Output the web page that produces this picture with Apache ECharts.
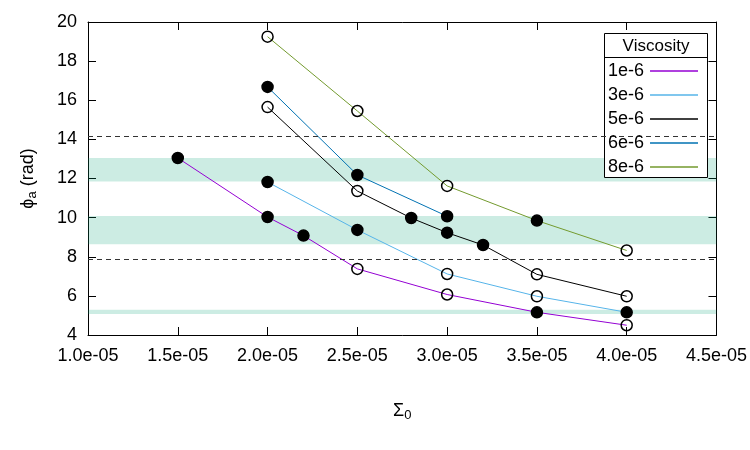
<!DOCTYPE html>
<html>
<head>
<meta charset="utf-8">
<script src="https://cdn.jsdelivr.net/npm/echarts@6/dist/echarts.min.js"></script>
<style>
    html, body { margin: 0; padding: 0; background: #fff; }
    #chart { width: 750px; height: 450px; }
</style>
</head>
<body>
<div id="chart"></div>
<script>
// x = Sigma_0, y = phi_a (rad), filled = true for solid markers
var viscosities = ['1e-6', '3e-6', '5e-6', '6e-6', '8e-6'];
var lineColors = ['#9400d3', '#56b4e9', '#000000', '#0072b2', '#739a2e'];

var sigma1 = [1.5e-5, 2.0e-5, 2.2e-5, 2.5e-5, 3.0e-5, 3.5e-5, 4.0e-5];
var phi1 = [13.05, 10.03, 9.08, 7.38, 6.07, 5.16, 4.5];
var filled1 = [true, true, true, false, false, true, false];

var sigma3 = [2.0e-5, 2.5e-5, 3.0e-5, 3.5e-5, 4.0e-5];
var phi3 = [11.82, 9.37, 7.12, 5.98, 5.16];
var filled3 = [true, true, false, false, true];

var sigma5 = [2.0e-5, 2.5e-5, 2.8e-5, 3.0e-5, 3.2e-5, 3.5e-5, 4.0e-5];
var phi5 = [15.65, 11.36, 9.98, 9.23, 8.6, 7.1, 5.98];
var filled5 = [false, false, true, true, true, false, false];

var sigma6 = [2.0e-5, 2.5e-5, 3.0e-5];
var phi6 = [16.68, 12.18, 10.07];
var filled6 = [true, true, true];

var sigma8 = [2.0e-5, 2.5e-5, 3.0e-5, 3.5e-5, 4.0e-5];
var phi8 = [19.25, 15.45, 11.62, 9.85, 8.32];
var filled8 = [false, false, false, true, false];

// shaded phi ranges and dashed reference levels
var bands = [[11.85, 13.05], [8.64, 10.08], [5.07, 5.29]];
var dashedLevels = [2.5 * Math.PI, 4.5 * Math.PI];

var xTicks = { min: 1.0e-5, max: 4.5e-5, step: 5e-6 };
var yTicks = { min: 4, max: 20, step: 2 };

function fmtExp(v) {
    var s = v.toExponential(1);
    var parts = s.split('e');
    var exp = parseInt(parts[1], 10);
    var sign = exp < 0 ? '-' : '+';
    var a = Math.abs(exp);
    return parts[0] + 'e' + sign + (a < 10 ? '0' + a : a);
}

function buildData(xs, ys, fills) {
    var out = [];
    for (var i = 0; i < xs.length; i++) {
        out.push({
            value: [xs[i], ys[i]],
            itemStyle: {
                color: fills[i] ? '#000' : 'rgba(0,0,0,0)',
                borderColor: '#000',
                borderWidth: 1.5
            }
        });
    }
    return out;
}

var allSeries = [
    [sigma1, phi1, filled1],
    [sigma3, phi3, filled3],
    [sigma5, phi5, filled5],
    [sigma6, phi6, filled6],
    [sigma8, phi8, filled8]
];

var chart = echarts.init(document.getElementById('chart'));
var font = 'Liberation Sans, Arial, sans-serif';

var series = [];
// bands and dashed lines first so they sit under the curves
series.push({
    type: 'line',
    data: [],
    silent: true,
    markArea: {
        silent: true,
        itemStyle: { color: 'rgba(0,158,115,0.2)' },
        data: bands.map(function (b) {
            return [{ yAxis: b[0] }, { yAxis: b[1] }];
        })
    },
    markLine: {
        silent: true,
        symbol: 'none',
        label: { show: false },
        lineStyle: { color: '#333', type: [5, 4], width: 1.2 },
        data: dashedLevels.map(function (v) { return { yAxis: v }; })
    }
});

allSeries.forEach(function (s, i) {
    series.push({
        name: viscosities[i],
        type: 'line',
        data: buildData(s[0], s[1], s[2]),
        symbol: 'circle',
        symbolSize: 11,
        itemStyle: { color: lineColors[i] },
        lineStyle: { color: lineColors[i], width: 1 },
        z: 3,
        animation: false
    });
});

var axisLineStyle = { show: true, lineStyle: { color: '#000', width: 1 } };
var nameRich = {
    n: { fontFamily: font, fontSize: 18, color: '#000' },
    sub: { fontFamily: font, fontSize: 13, color: '#000', verticalAlign: 'bottom', padding: [9, 0, 0, 0] }
};

var option = {
    animation: false,
    grid: { left: 88, right: 33, top: 22, bottom: 115, containLabel: false },
    xAxis: [{
        type: 'value',
        min: xTicks.min,
        max: xTicks.max,
        interval: xTicks.step,
        name: '{n|Σ}{sub|0}',
        nameLocation: 'middle',
        nameGap: 65,
        nameTextStyle: { rich: nameRich },
        axisLine: axisLineStyle,
        axisTick: { inside: true, length: 8, lineStyle: { color: '#000' } },
        splitLine: { show: false },
        axisLabel: {
            formatter: fmtExp,
            fontFamily: font,
            fontSize: 18,
            color: '#000',
            margin: 12
        }
    }, {
        type: 'value',
        position: 'top',
        min: xTicks.min,
        max: xTicks.max,
        interval: xTicks.step,
        axisLine: axisLineStyle,
        axisTick: { inside: true, length: 8, lineStyle: { color: '#000' } },
        axisLabel: { show: false },
        splitLine: { show: false }
    }],
    yAxis: [{
        type: 'value',
        min: yTicks.min,
        max: yTicks.max,
        interval: yTicks.step,
        name: '{n|ϕ}{sub|a}{n| (rad)}',
        nameLocation: 'middle',
        nameGap: 49,
        nameRotate: 90,
        nameTextStyle: { rich: nameRich },
        axisLine: axisLineStyle,
        axisTick: { inside: true, length: 8, lineStyle: { color: '#000' } },
        splitLine: { show: false },
        axisLabel: { fontFamily: font, fontSize: 18, color: '#000', margin: 11 }
    }, {
        type: 'value',
        position: 'right',
        min: yTicks.min,
        max: yTicks.max,
        interval: yTicks.step,
        axisLine: axisLineStyle,
        axisTick: { inside: true, length: 8, lineStyle: { color: '#000' } },
        axisLabel: { show: false },
        splitLine: { show: false }
    }],
    legend: {
        data: viscosities,
        orient: 'vertical',
        left: 608,
        top: 62,
        align: 'right',
        icon: 'rect',
        itemWidth: 48,
        itemHeight: 1.5,
        itemGap: 6,
        padding: 0,
        textStyle: { fontFamily: font, fontSize: 18, color: '#000', padding: [0, 1, 0, 0] },
        selectedMode: false,
        z: 10
    },
    graphic: [{
        type: 'rect',
        shape: { x: 604.5, y: 33.5, width: 103, height: 144 },
        style: { fill: '#fff', stroke: '#000', lineWidth: 1 },
        z: 5
    }, {
        type: 'line',
        shape: { x1: 604.5, y1: 57.5, x2: 707.5, y2: 57.5 },
        style: { stroke: '#000', lineWidth: 1 },
        z: 6
    }, {
        type: 'text',
        style: {
            x: 656, y: 46, text: 'Viscosity',
            fontFamily: font, fontSize: 17, fill: '#000',
            textAlign: 'center', textVerticalAlign: 'middle'
        },
        z: 6
    }],
    series: series
};

chart.setOption(option);
</script>
</body>
</html>
